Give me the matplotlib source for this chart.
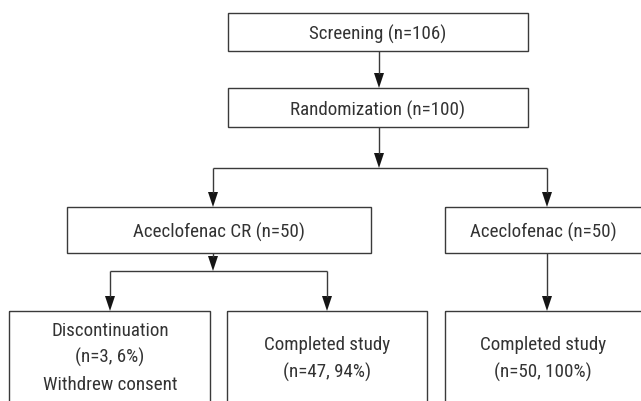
import matplotlib
matplotlib.use("Agg")
import matplotlib.pyplot as plt
from matplotlib.patches import Rectangle, Polygon
from matplotlib import font_manager

# ---- data (texts of the flow chart) ----
stage_labels = ["Screening (n=106)", "Randomization (n=100)"]
arm_labels = ["Aceclofenac CR (n=50)", "Aceclofenac (n=50)"]
outcome_labels = [["Discontinuation", "(n=3, 6%)", "Withdrew consent"],
                  ["Completed study", "(n=47, 94%)"],
                  ["Completed study", "(n=50, 100%)"]]

names = {f.name for f in font_manager.fontManager.ttflist}
FAMILY = ["Roboto Condensed", "DejaVu Sans"] if "Roboto Condensed" in names else ["DejaVu Sans"]
WEIGHT = "normal"

W, H = 641, 401
fig = plt.figure(figsize=(W / 100, H / 100), dpi=100)
ax = fig.add_axes([0, 0, 1, 1])
ax.set_xlim(0, W)
ax.set_ylim(H, 0)
ax.axis("off")

# fit font size so that the first label is ~136 px wide
renderer = fig.canvas.get_renderer()
probe = fig.text(0, 0, stage_labels[0], fontsize=10, family=FAMILY, fontweight=WEIGHT)
w10 = probe.get_window_extent(renderer).width
probe.remove()
FS = 10 * 136.0 / w10

LC = "#3a3a3a"
TC = "#333333"
LW = 1.0


def box(x0, y0, x1, y1):
    ax.add_patch(Rectangle((x0, y0), x1 - x0, y1 - y0, fill=False,
                           edgecolor=LC, linewidth=LW, clip_on=False))


def text(x, y, s):
    ax.text(x, y, s, ha="center", va="center_baseline", fontsize=FS,
            family=FAMILY, fontweight=WEIGHT, color=TC)


def line(xs, ys):
    ax.plot(xs, ys, color=LC, linewidth=LW, solid_capstyle="butt")


def arrow(x, y0, y1):
    hl, hw = 15, 5
    line([x, x], [y0, y1 - hl + 1])
    ax.add_patch(Polygon([[x - hw, y1 - hl], [x + hw, y1 - hl], [x, y1]],
                         closed=True, facecolor="#151515", edgecolor="none"))


# top stages
box(228, 13, 528, 51)
text(378, 32, stage_labels[0])
arrow(379, 51, 88)
box(228, 88, 528, 127)
text(378, 108, stage_labels[1])

# split to arms
arrow(379, 127, 168)
line([213, 547], [168, 168])
arrow(213, 168, 207)
arrow(547, 168, 207)

box(67, 207, 371, 253)
text(219, 230, arm_labels[0])
box(445, 207, 648, 253)
text(543, 230, arm_labels[1])

# CR arm split
arrow(213, 253, 271)
line([110, 327], [271, 271])
arrow(110, 271, 311)
arrow(327, 271, 311)
arrow(547, 253, 311)

# outcome boxes (cut off at the bottom edge)
box(9, 311, 210, 410)
box(227, 311, 427, 410)
box(445, 311, 648, 410)

centers = [110, 327, 543]
for cx, lines in zip(centers, outcome_labels):
    n = len(lines)
    step = 27
    y0 = 355.5 - (n - 1) * step / 2 + (1.5 if n == 2 else 0)
    for i, s in enumerate(lines):
        text(cx, y0 + i * step, s)

fig.savefig("out.png", dpi=100)
